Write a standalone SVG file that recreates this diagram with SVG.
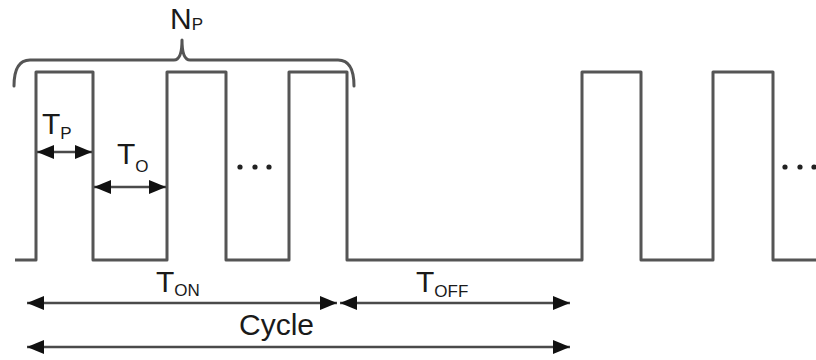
<svg xmlns="http://www.w3.org/2000/svg" width="816" height="360" viewBox="0 0 816 360">
<defs>
<marker id="ah" viewBox="0 0 17 14" refX="17" refY="7" markerWidth="17" markerHeight="14" markerUnits="userSpaceOnUse" orient="auto-start-reverse">
<path d="M0,0 L17,7 L0,14 Z" fill="#111"/>
</marker>
</defs>
<style>
.wave{fill:none;stroke:#555;stroke-width:3;stroke-linejoin:round}
.brace{fill:none;stroke:#555;stroke-width:3;stroke-linecap:round;stroke-linejoin:round}
.arr{fill:none;stroke:#4a4a4a;stroke-width:2.5;marker-start:url(#ah);marker-end:url(#ah)}
.t{font-family:"Liberation Sans",Arial,sans-serif;font-size:30px;fill:#1a1a1a}
.s{font-size:17px}
.dot{fill:#222}
</style>
<g id="waveform">
<path class="wave" d="M15,260 H36 V72 H93 V260 H167 V72 H226 V260 H289 V72 H347 V260 H582 V72 H641 V260 H713 V72 H773 V260 H816"/>
</g>
<g id="brace">
<path class="brace" d="M14,86 Q14,60 30,60 H174 Q182,60 182,40 Q182,60 190,60 H338 Q354,60 354,86"/>
</g>
<g id="label-np"><text class="t" x="170" y="29">N<tspan class="s" dy="1">P</tspan></text></g>
<g id="label-tp"><text class="t" x="42" y="134">T<tspan class="s" dy="5">P</tspan></text></g>
<g id="label-to"><text class="t" x="117" y="164">T<tspan class="s" dy="8">O</tspan></text></g>
<g id="label-ton"><text class="t" x="156" y="292">T<tspan class="s" dy="4">ON</tspan></text></g>
<g id="label-toff"><text class="t" x="416" y="292">T<tspan class="s" dy="5">OFF</tspan></text></g>
<g id="label-cycle"><text class="t" x="239" y="335">Cycle</text></g>
<g id="dots1"><circle class="dot" cx="240" cy="167" r="2.6"/><circle class="dot" cx="255" cy="167" r="2.6"/><circle class="dot" cx="269" cy="167" r="2.6"/></g>
<g id="dots2"><circle class="dot" cx="785" cy="167" r="2.6"/><circle class="dot" cx="800" cy="167" r="2.6"/><circle class="dot" cx="814" cy="167" r="2.6"/></g>
<g id="connectors">
<line class="arr" x1="37" y1="152" x2="92" y2="152"/>
<line class="arr" x1="94" y1="187" x2="166" y2="187"/>
<line class="arr" x1="27" y1="303" x2="337" y2="303"/>
<line class="arr" x1="340" y1="303" x2="570" y2="303"/>
<line class="arr" x1="27" y1="347" x2="570" y2="347"/>
</g>
</svg>
